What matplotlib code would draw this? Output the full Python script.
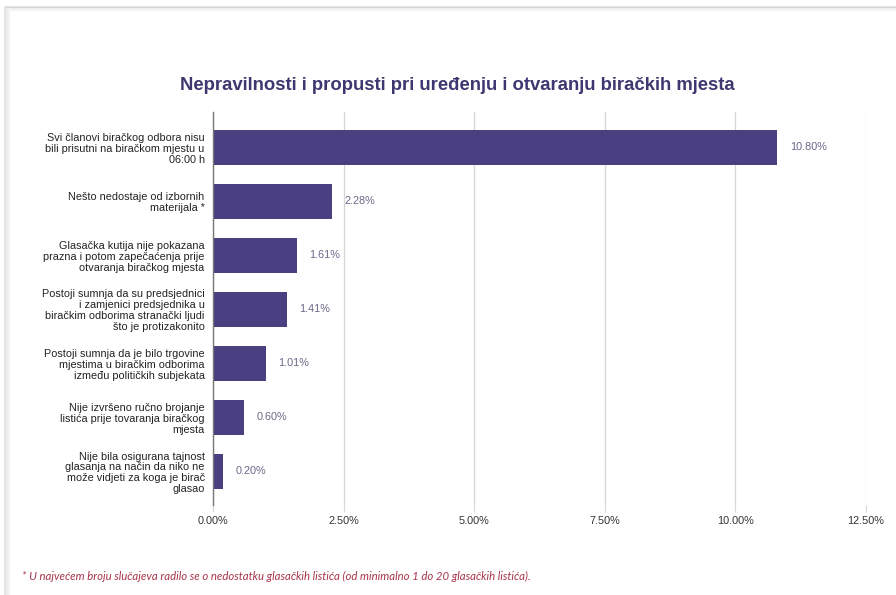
import matplotlib.pyplot as plt
from matplotlib.patches import Rectangle
from matplotlib.ticker import FuncFormatter

# Data
categories = [
    "Svi članovi biračkog odbora nisu\nbili prisutni na biračkom mjestu u\n06:00 h",
    "Nešto nedostaje od izbornih\nmaterijala *",
    "Glasačka kutija nije pokazana\nprazna i potom zapečaćenja prije\notvaranja biračkog mjesta",
    "Postoji sumnja da su predsjednici\ni zamjenici predsjednika u\nbiračkim odborima stranački ljudi\nšto je protizakonito",
    "Postoji sumnja da je bilo trgovine\nmjestima u biračkim odborima\nizmeđu političkih subjekata",
    "Nije izvršeno ručno brojanje\nlistića prije tovaranja biračkog\nmjesta",
    "Nije bila osigurana tajnost\nglasanja na način da niko ne\nmože vidjeti za koga je birač\nglasao",
]
values = [10.80, 2.28, 1.61, 1.41, 1.01, 0.60, 0.20]
x_ticks = [0, 2.5, 5, 7.5, 10, 12.5]

title = "Nepravilnosti i propusti pri uređenju i otvaranju biračkih mjesta"
footnote = ("* U najvećem broju slučajeva radilo se o nedostatku glasačkih listića "
            "(od minimalno 1 do 20 glasačkih listića).")

bar_color = "#4a3f80"
title_color = "#3d3870"

plt.rcParams['font.family'] = ['Liberation Sans', 'DejaVu Sans']

fig = plt.figure(figsize=(8.96, 5.95), dpi=100)
fig.patch.set_facecolor("white")

# card shadow (screenshot frame)
for i, a in enumerate([0.05, 0.08, 0.12]):
    fig.patches.append(Rectangle((9 / 896 - i * 0.002, -0.1), 1.2, (585 + i * 1.5) / 595 + 0.1,
                                 transform=fig.transFigure, fill=False,
                                 edgecolor="black", alpha=a, lw=1.2, zorder=0))

ax = fig.add_axes([213 / 896, 1 - 505 / 595, (866 - 213) / 896, (505 - 112) / 595])

ypos = list(range(len(categories)))
ax.barh(ypos, values, height=0.65, color=bar_color, zorder=3)
for y, v in zip(ypos, values):
    ax.text(v + 0.24, y, f"{v:.2f}%", va="center", ha="left",
            fontsize=7.8, color="#6a6888")

ax.set_xlim(0, 12.5)
ax.set_ylim(6.62, -0.65)
ax.set_xticks(x_ticks)
ax.xaxis.set_major_formatter(FuncFormatter(lambda x, p: f"{x:.2f}%"))
ax.set_yticks(ypos)
ax.set_yticklabels(categories, fontsize=7.8, color="#222222", linespacing=1.12)
ax.tick_params(axis="y", length=0, pad=6)
ax.tick_params(axis="x", length=5, color="#d6d6d6", labelsize=7.8,
               labelcolor="#333333", pad=3)

ax.grid(axis="x", color="#d6d6d6", lw=0.9, zorder=0)
for s in ["top", "right", "bottom"]:
    ax.spines[s].set_visible(False)
ax.spines["left"].set_color("#777777")
ax.spines["left"].set_linewidth(1.0)
ax.spines["left"].set_zorder(4)

fig.text(457 / 896, 1 - 86 / 595, title, ha="center", va="center",
         fontsize=13.3, fontweight="bold", color=title_color)

fig.text(22 / 896, 1 - 576 / 595, footnote, ha="left", va="center",
         fontsize=8.2, style="italic", color="#a8344a", family=["Lato", "DejaVu Sans"])

fig.savefig("out.png", dpi=100, facecolor="white")
